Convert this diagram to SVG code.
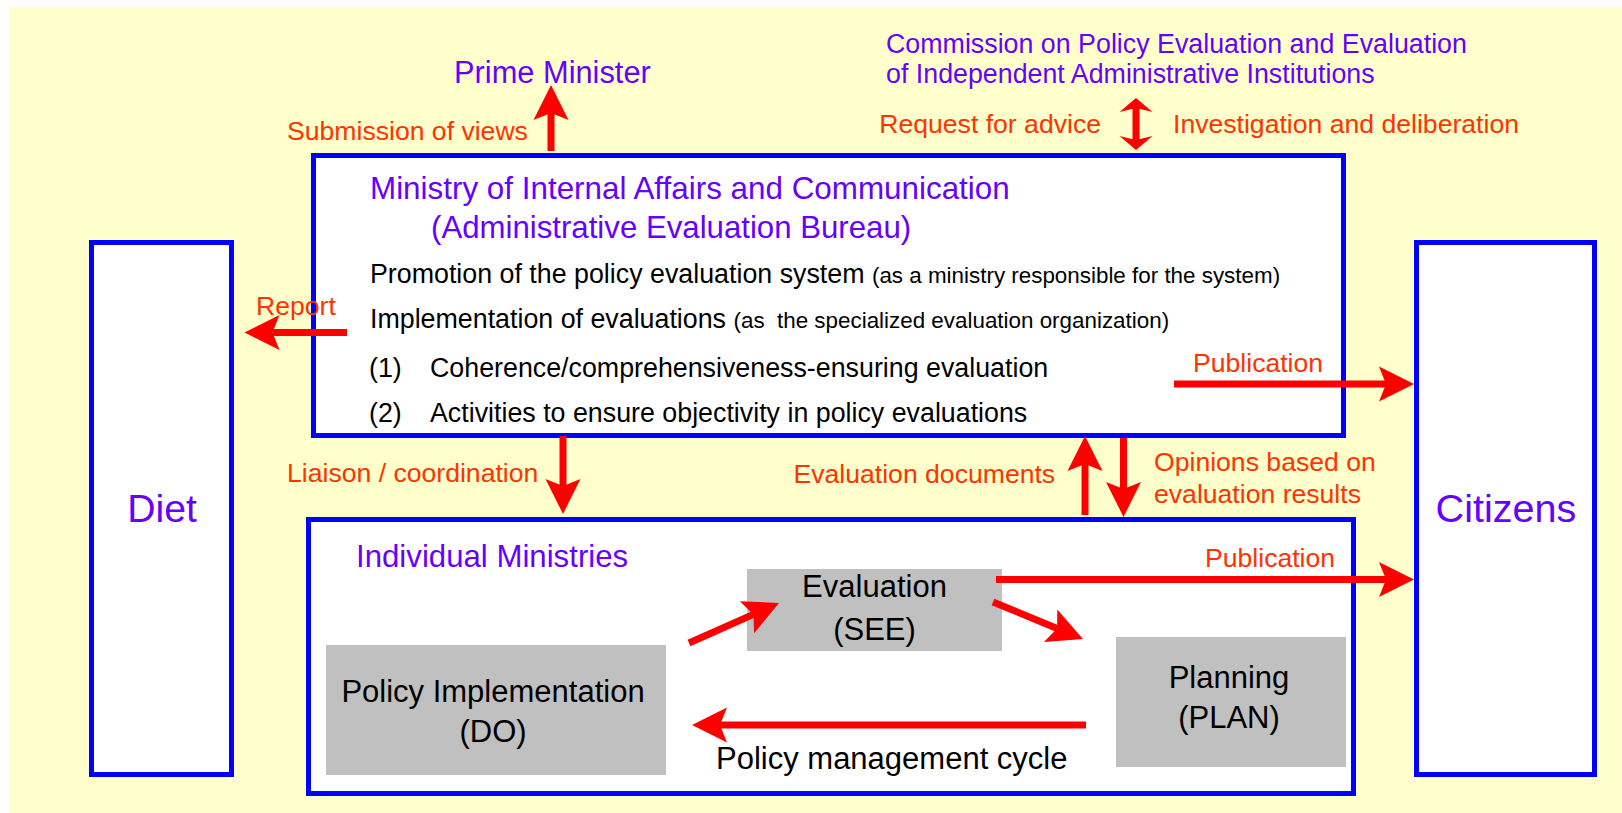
<svg xmlns="http://www.w3.org/2000/svg" width="1622" height="813" viewBox="0 0 1622 813">
<defs>
<style>
text{font-family:"Liberation Sans",Arial,sans-serif}
.pu{fill:#6600FF}
.or{fill:#FF3300;font-size:26.6px}
.bk{fill:#000000}
.b27{font-size:26.8px}
.b31{font-size:31px}
.sm{font-size:22.4px}
.box{fill:#FFFFFF;stroke:#0000FF;stroke-width:5}
.gr{fill:#C0C0C0}
.ar{fill:none;stroke:#FF0000;stroke-width:7;marker-end:url(#head)}
.dbl{fill:none;stroke:#FF0000;stroke-width:7;marker-end:url(#small);marker-start:url(#small)}
</style>
<marker id="head" viewBox="-10 -20 40 40" markerWidth="40" markerHeight="40" refX="0" refY="0" markerUnits="userSpaceOnUse" orient="auto">
<path d="M28,0 L-7,-17.5 L0,0 L-7,17.5 Z" fill="#FF0000"/>
</marker>
<marker id="small" viewBox="-10 -20 40 40" markerWidth="40" markerHeight="40" refX="0" refY="0" markerUnits="userSpaceOnUse" orient="auto-start-reverse">
<path d="M10,0 L-4,-16.5 L0,0 L-4,16.5 Z" fill="#FF0000"/>
</marker>
</defs>
<rect x="0" y="0" width="1622" height="813" fill="#FFFFFF"/>
<rect x="9" y="7" width="1613" height="806" fill="#FFFFCC"/>

<g id="prime-minister"><text class="pu" x="454" y="83" font-size="30.8">Prime Minister</text></g>
<g id="commission">
<text class="pu" x="886" y="53" font-size="26.8">Commission on Policy Evaluation and Evaluation</text>
<text class="pu" x="886" y="83" font-size="26.8">of Independent Administrative Institutions</text>
</g>

<g id="mic">
<rect class="box" x="313.5" y="155.5" width="1030" height="280"/>
<text class="pu" x="370" y="199" font-size="31.4">Ministry of Internal Affairs and Communication</text>
<text class="pu" x="431" y="238" font-size="31.2">(Administrative Evaluation Bureau)</text>
<text class="bk b27" x="370" y="283">Promotion of the policy evaluation system <tspan class="sm">(as a ministry responsible for the system)</tspan></text>
<text class="bk b27" x="370" y="328">Implementation of evaluations <tspan class="sm">(as&#160; the specialized evaluation organization)</tspan></text>
<text class="bk b27" x="369" y="377">(1)</text><text class="bk b27" x="430" y="377">Coherence/comprehensiveness-ensuring evaluation</text>
<text class="bk b27" x="369" y="422">(2)</text><text class="bk b27" x="430" y="422">Activities to ensure objectivity in policy evaluations</text>
</g>

<g id="diet">
<rect class="box" x="91.5" y="242.5" width="140" height="532"/>
<text class="pu" x="162" y="522" font-size="39.2" text-anchor="middle">Diet</text>
</g>
<g id="citizens">
<rect class="box" x="1416.5" y="242.5" width="178" height="532"/>
<text class="pu" x="1506" y="522" font-size="39.6" text-anchor="middle">Citizens</text>
</g>

<g id="ministries">
<rect class="box" x="308.5" y="519.5" width="1045" height="274"/>
<text class="pu" x="356" y="567" font-size="31.2">Individual Ministries</text>
</g>
<g id="evaluation">
<rect class="gr" x="747" y="569" width="255" height="82"/>
<text class="bk b31" x="874.5" y="597" text-anchor="middle">Evaluation</text>
<text class="bk b31" x="874.5" y="640" text-anchor="middle">(SEE)</text>
</g>
<g id="planning">
<rect class="gr" x="1116" y="637" width="230" height="130"/>
<text class="bk b31" x="1229" y="688" text-anchor="middle">Planning</text>
<text class="bk b31" x="1229" y="728" text-anchor="middle">(PLAN)</text>
</g>
<g id="do">
<rect class="gr" x="326" y="645" width="340" height="130"/>
<text class="bk b31" x="493" y="702" text-anchor="middle">Policy Implementation</text>
<text class="bk b31" x="493" y="742" text-anchor="middle">(DO)</text>
</g>

<g id="connectors">
<line class="ar" x1="551" y1="151" x2="551" y2="113"/>
<text class="or" x="287" y="140">Submission of views</text>
<line class="dbl" x1="1136" y1="108" x2="1136" y2="140"/>
<text class="or" x="1101" y="133" text-anchor="end">Request for advice</text>
<text class="or" x="1173" y="133">Investigation and deliberation</text>
<line class="ar" x1="347" y1="332.5" x2="272.5" y2="332.5"/>
<text class="or" x="256" y="315">Report</text>
<line class="ar" x1="1174" y1="384" x2="1386" y2="384"/>
<text class="or" x="1193" y="372">Publication</text>
<line class="ar" x1="563" y1="436" x2="563" y2="486"/>
<text class="or" x="287" y="482">Liaison / coordination</text>
<line class="ar" x1="1085" y1="515" x2="1085" y2="464"/>
<text class="or" x="793.5" y="483">Evaluation documents</text>
<line class="ar" x1="1123.5" y1="438" x2="1123.5" y2="489"/>
<text class="or" x="1154" y="471">Opinions based on</text>
<text class="or" x="1154" y="503">evaluation results</text>
<line class="ar" x1="996" y1="579.5" x2="1386" y2="579.5"/>
<text class="or" x="1205" y="567">Publication</text>
<line class="ar" x1="689" y1="643" x2="753.4" y2="614.4"/>
<line class="ar" x1="993" y1="602" x2="1057.1" y2="628.4"/>
<line class="ar" x1="1086" y1="725" x2="720" y2="725"/>
<text class="bk b31" x="716" y="769">Policy management cycle</text>
</g>
</svg>
